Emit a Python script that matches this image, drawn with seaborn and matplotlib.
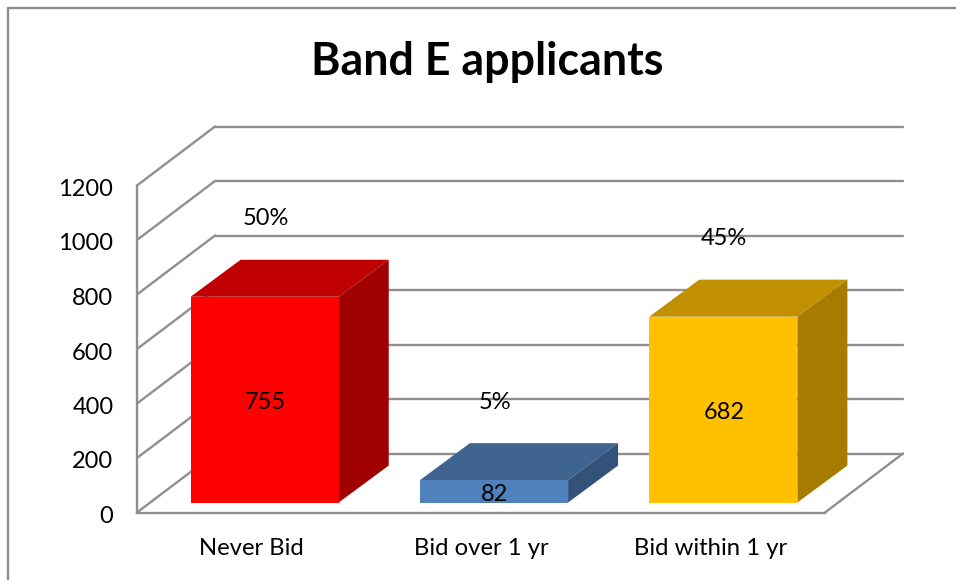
import matplotlib
matplotlib.use("Agg")
import matplotlib.pyplot as plt
from matplotlib.lines import Line2D
from matplotlib.patches import Polygon
from matplotlib.transforms import Affine2D, IdentityTransform
import pandas as pd
import seaborn as sns

categories = ["Never Bid", "Bid over 1 yr", "Bid within 1 yr"]
counts = [755, 82, 682]
shares = ["50%", "5%", "45%"]
y_ticks = [0, 200, 400, 600, 800, 1000, 1200]
title = "Band E applicants"

front_colors = ["#FF0000", "#4F81BD", "#FFC000"]
top_colors = ["#C00000", "#3E648F", "#C09000"]
side_colors = ["#A00000", "#32527A", "#A67C00"]
GRID = "#8F8F8F"
W, H = 956, 580

sns.set_theme(style="white")
plt.rcParams["font.family"] = ["Lato", "DejaVu Sans"]

df = pd.DataFrame({"category": categories, "count": counts})
fig = plt.figure(figsize=(W / 100, H / 100), dpi=100)
ax = fig.add_axes([137 / W, (H - 512.5) / H, 688 / W, 327 / H])
sns.barplot(data=df, x="category", y="count", hue="category", palette=front_colors,
            width=0.646, legend=False, saturation=1, linewidth=0, ax=ax, zorder=5)
ax.set_xlim(-0.5, 2.5)
ax.set_ylim(0, 1200)
ax.set_yticks(y_ticks)
ax.set_xlabel("")
ax.set_ylabel("")
ax.tick_params(axis="y", length=0, pad=17, labelsize=17, labelcolor="black")
ax.tick_params(axis="x", length=0, pad=18.5, labelsize=17.2, labelcolor="black")
for lab in ax.get_yticklabels():
    lab.set_transform(lab.get_transform() + Affine2D().translate(0, -2))
for side in ("top", "right"):
    ax.spines[side].set_visible(False)
for side in ("left", "bottom"):
    ax.spines[side].set_color(GRID)
    ax.spines[side].set_linewidth(1.7)
ax.patch.set_alpha(0)

fig.canvas.draw()
disp = IdentityTransform()
WALL = (78, 59)
BAR_SHIFT = (13, 10)
BAR_DEPTH = (50, 37)


def line(x0, y0, x1, y1, z=1):
    ax.add_line(Line2D([x0, x1], [y0, y1], transform=disp, color=GRID, lw=1.7,
                       clip_on=False, zorder=z))


for v in y_ticks:
    x0, y0 = ax.transData.transform((-0.5, v))
    x1, _ = ax.transData.transform((2.5, v))
    line(x0 + WALL[0], y0 + WALL[1], x1 + WALL[0], y0 + WALL[1])
    line(x0, y0, x0 + WALL[0], y0 + WALL[1])
xr, yr = ax.transData.transform((2.5, 0))
line(xr, yr, xr + WALL[0], yr + WALL[1])

shift = Affine2D().translate(*BAR_SHIFT)
for bar, value, share, tc, sc in zip(ax.patches, counts, shares, top_colors, side_colors):
    bar.set_transform(ax.transData + shift)
    bar.set_clip_on(False)
    bx, bw = bar.get_x(), bar.get_width()
    xa, ya = (ax.transData + shift).transform((bx, 0))
    xb, yb = (ax.transData + shift).transform((bx + bw, value))
    dx, dy = BAR_DEPTH
    ax.add_patch(Polygon([(xa, yb), (xb, yb), (xb + dx, yb + dy), (xa + dx, yb + dy)],
                         closed=True, transform=disp, facecolor=tc, edgecolor="none",
                         clip_on=False, zorder=4))
    ax.add_patch(Polygon([(xb, ya), (xb, yb), (xb + dx, yb + dy), (xb + dx, ya + dy)],
                         closed=True, transform=disp, facecolor=sc, edgecolor="none",
                         clip_on=False, zorder=4))
    xc = (xa + xb) / 2 + 1
    ax.text(xc, (ya + yb) / 2 - 3, str(value), transform=disp, ha="center", va="center",
            fontsize=17, color="black", zorder=7)
    ax.text(xc, yb + 78, share, transform=disp, ha="center", va="center",
            fontsize=17, color="black", zorder=7)

fig.text(487.5 / W, (H - 62) / H, title, ha="center", va="center", fontsize=32.2,
         fontweight="bold", color="black")
fig.add_artist(Line2D([8 / W, 8 / W, 1], [0, (H - 8) / H, (H - 8) / H],
                      transform=fig.transFigure, color="#8C8C8C", lw=1.7))
fig.savefig("out.png", dpi=100, facecolor="white")
